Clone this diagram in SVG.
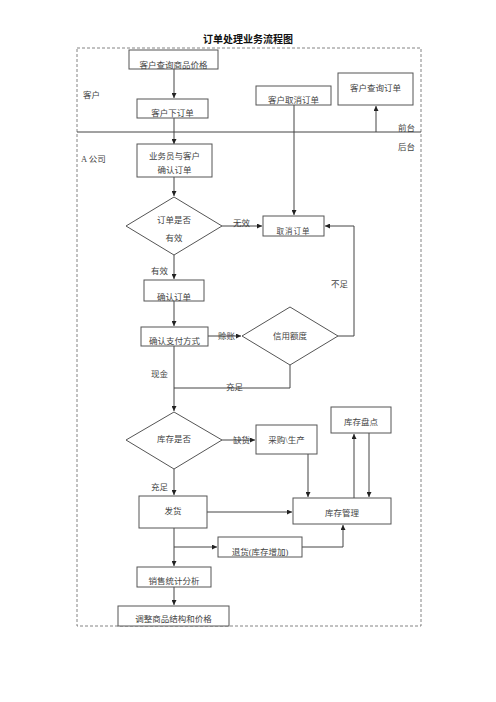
<svg xmlns="http://www.w3.org/2000/svg" width="496" height="702" viewBox="0 0 496 702">
<style>
.t{font-family:"Liberation Serif","Noto Sans CJK SC",serif;font-size:8.5px;fill:#444}
.c{text-anchor:middle}
.b{fill:#fff;stroke:#555;stroke-width:1}
.l{fill:none;stroke:#444;stroke-width:1}
</style>
<defs>
<marker id="a" viewBox="0 0 6 6" refX="6" refY="3" markerWidth="5" markerHeight="5" orient="auto"><path d="M0,0L6,3L0,6z" fill="#222"/></marker>
</defs>
<rect width="496" height="702" fill="#fff"/>
<text x="248" y="43" text-anchor="middle" font-family="Liberation Sans,'Noto Sans CJK SC',sans-serif" font-size="10" font-weight="bold" fill="#111">订单处理业务流程图</text>
<rect x="77" y="48" width="344" height="578" fill="none" stroke="#666" stroke-width="0.8" stroke-dasharray="3,2"/>
<line x1="77" y1="132" x2="421" y2="132" stroke="#444" stroke-width="1"/>
<g id="labels">
<text class="t" x="83" y="98">客户</text>
<text class="t" x="81" y="162">A 公司</text>
<text class="t" x="398" y="131">前台</text>
<text class="t" x="398" y="150">后台</text>
<text class="t" x="233" y="226">无效</text>
<text class="t" x="151" y="274">有效</text>
<text class="t" x="331" y="287">不足</text>
<text class="t" x="218" y="339">赊账</text>
<text class="t" x="151" y="377">现金</text>
<text class="t" x="226" y="390">充足</text>
<text class="t" x="233" y="443">缺货</text>
<text class="t" x="151" y="490">充足</text>
</g>
<g id="connectors">
<path class="l" d="M174,69V98" marker-end="url(#a)"/>
<path class="l" d="M174,118V144" marker-end="url(#a)"/>
<path class="l" d="M376,132V106" marker-end="url(#a)"/>
<path class="l" d="M294,105V215" marker-end="url(#a)"/>
<path class="l" d="M174,177V196" marker-end="url(#a)"/>
<path class="l" d="M222,226H262" marker-end="url(#a)"/>
<path class="l" d="M338,336H354V226H325" marker-end="url(#a)"/>
<path class="l" d="M174,255V279" marker-end="url(#a)"/>
<path class="l" d="M174,301V326" marker-end="url(#a)"/>
<path class="l" d="M208,336H241" marker-end="url(#a)"/>
<path class="l" d="M290,365V388H174"/>
<path class="l" d="M174,346V411" marker-end="url(#a)"/>
<path class="l" d="M222,440H255" marker-end="url(#a)"/>
<path class="l" d="M308,454V497" marker-end="url(#a)"/>
<path class="l" d="M354,498V434" marker-end="url(#a)"/>
<path class="l" d="M369,433V497" marker-end="url(#a)"/>
<path class="l" d="M174,469V495" marker-end="url(#a)"/>
<path class="l" d="M207,512H292" marker-end="url(#a)"/>
<path class="l" d="M174,528V566" marker-end="url(#a)"/>
<path class="l" d="M174,547H217" marker-end="url(#a)"/>
<path class="l" d="M302,547H343V525" marker-end="url(#a)"/>
<path class="l" d="M174,587V605" marker-end="url(#a)"/>
</g>
<g id="n1"><rect class="b" x="129" y="50" width="89" height="19"/><text class="t c" x="173.5" y="68">客户查询商品价格</text></g>
<g id="n2"><rect class="b" x="137" y="99" width="71" height="19"/><text class="t c" x="172.5" y="116">客户下订单</text></g>
<g id="n3"><rect class="b" x="256" y="86" width="75" height="19"/><text class="t c" x="293.5" y="103">客户取消订单</text></g>
<g id="n4"><rect class="b" x="338" y="73" width="75" height="32"/><text class="t c" x="375.5" y="91">客户查询订单</text></g>
<g id="n5"><rect class="b" x="137" y="144" width="75" height="33"/><text class="t c" x="174.5" y="159">业务员与客户</text><text class="t c" x="174.5" y="173">确认订单</text></g>
<g id="n6"><path class="b" d="M174,197L222,226L174,255L126,226z"/><text class="t c" x="174" y="223">订单是否</text><text class="t c" x="174" y="241">有效</text></g>
<g id="n7"><rect class="b" x="263" y="216" width="61" height="20"/><text class="t c" x="293.5" y="234" style="font-size:7.5px;letter-spacing:1px">取消订单</text></g>
<g id="n8"><rect class="b" x="144" y="280" width="60" height="21"/><text class="t c" x="174" y="300">确认订单</text></g>
<g id="n9"><rect class="b" x="141" y="327" width="67" height="19"/><text class="t c" x="174.5" y="344">确认支付方式</text></g>
<g id="n10"><path class="b" d="M290,307L338,336L290,365L242,336z"/><text class="t c" x="290" y="339">信用额度</text></g>
<g id="n11"><path class="b" d="M174,412L222,440L174,469L126,440z"/><text class="t c" x="174" y="442">库存是否</text></g>
<g id="n12"><rect class="b" x="256" y="425" width="61" height="29"/><text class="t c" x="286.5" y="443">采购\生产</text></g>
<g id="n13"><rect class="b" x="331" y="407" width="60" height="26"/><text class="t c" x="361" y="425">库存盘点</text></g>
<g id="n14"><rect class="b" x="293" y="498" width="98" height="26"/><text class="t c" x="342" y="516">库存管理</text></g>
<g id="n15"><rect class="b" x="139" y="496" width="68" height="32"/><text class="t c" x="173" y="514">发货</text></g>
<g id="n16"><rect class="b" x="218" y="537" width="84" height="20"/><text class="t c" x="260" y="555">退货(库存增加)</text></g>
<g id="n17"><rect class="b" x="137" y="567" width="74" height="20"/><text class="t c" x="174" y="584">销售统计分析</text></g>
<g id="n18"><rect class="b" x="118" y="606" width="111" height="20"/><text class="t c" x="173.5" y="622">调整商品结构和价格</text></g>
</svg>
